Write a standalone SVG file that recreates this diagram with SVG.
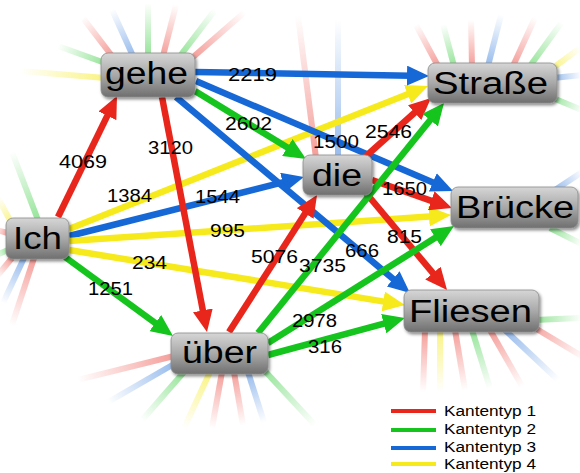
<svg xmlns="http://www.w3.org/2000/svg" width="580" height="473" viewBox="0 0 580 473">
<style>
.e{fill:none;stroke-width:6.5}
.r{stroke:#e8261c}.g{stroke:#16c41e}.b{stroke:#1668d6}.y{stroke:#f6ea1c}
.box{fill:url(#ng);stroke:#8a8a8a;stroke-width:0.8;filter:url(#sh)}
.nt{font-family:"Liberation Sans",Arial,sans-serif;font-size:31px;fill:#000}
.lb{font-family:"Liberation Sans",Arial,sans-serif;font-size:18px;fill:#000}
.lg{font-family:"Liberation Sans",Arial,sans-serif;font-size:14px;fill:#000}
.sr{fill:url(#fr)}.sg{fill:url(#fg)}.sb{fill:url(#fb)}.sy{fill:url(#fy)}
</style>
<defs>
<linearGradient id="ng" x1="0" y1="0" x2="0" y2="1">
<stop offset="0" stop-color="#d6d6d6"/><stop offset="0.5" stop-color="#a9a9a9"/><stop offset="1" stop-color="#6f6f6f"/>
</linearGradient>
<linearGradient id="fr"><stop offset="0" stop-color="#e8261c" stop-opacity="0.45"/><stop offset="1" stop-color="#e8261c" stop-opacity="0"/></linearGradient>
<linearGradient id="fg"><stop offset="0" stop-color="#16c41e" stop-opacity="0.45"/><stop offset="1" stop-color="#16c41e" stop-opacity="0"/></linearGradient>
<linearGradient id="fb"><stop offset="0" stop-color="#1668d6" stop-opacity="0.45"/><stop offset="1" stop-color="#1668d6" stop-opacity="0"/></linearGradient>
<linearGradient id="fy"><stop offset="0" stop-color="#f6ea1c" stop-opacity="0.55"/><stop offset="1" stop-color="#f6ea1c" stop-opacity="0"/></linearGradient>
<filter id="sh" x="-20%" y="-20%" width="150%" height="160%">
<feDropShadow dx="1.5" dy="2" stdDeviation="1.5" flood-color="#000" flood-opacity="0.45"/>
</filter>
<marker id="ar" markerUnits="userSpaceOnUse" markerWidth="22" markerHeight="20" viewBox="0 0 22 20" refX="4" refY="10" orient="auto"><path d="M0,0 L22,10 L0,20 z" fill="#e8261c"/></marker>
<marker id="ag" markerUnits="userSpaceOnUse" markerWidth="22" markerHeight="20" viewBox="0 0 22 20" refX="4" refY="10" orient="auto"><path d="M0,0 L22,10 L0,20 z" fill="#16c41e"/></marker>
<marker id="ab" markerUnits="userSpaceOnUse" markerWidth="22" markerHeight="20" viewBox="0 0 22 20" refX="4" refY="10" orient="auto"><path d="M0,0 L22,10 L0,20 z" fill="#1668d6"/></marker>
<marker id="ay" markerUnits="userSpaceOnUse" markerWidth="22" markerHeight="20" viewBox="0 0 22 20" refX="4" refY="10" orient="auto"><path d="M0,0 L22,10 L0,20 z" fill="#f6ea1c"/></marker>
</defs>
<rect width="580" height="473" fill="#fff"/>
<g id="stubs">
<rect class="sy" x="0" y="-3" width="85" height="6" transform="translate(105 78) rotate(184.7)"/>
<rect class="sg" x="0" y="-3" width="50" height="6" transform="translate(105 63) rotate(199.9)"/>
<rect class="sr" x="0" y="-3" width="48" height="6" transform="translate(112 56) rotate(232.6)"/>
<rect class="sb" x="0" y="-3" width="51" height="6" transform="translate(133 56) rotate(245.5)"/>
<rect class="sg" x="0" y="-3" width="53" height="6" transform="translate(148 56) rotate(270)"/>
<rect class="sr" x="0" y="-3" width="53" height="6" transform="translate(163 56) rotate(284.3)"/>
<rect class="sg" x="0" y="-3" width="58" height="6" transform="translate(180 56) rotate(-52.7)"/>
<rect class="sr" x="0" y="-3" width="70" height="6" transform="translate(192 58) rotate(-41)"/>
<rect class="sr" x="0" y="-3" width="47" height="6" transform="translate(438 66) rotate(241.8)"/>
<rect class="sg" x="0" y="-3" width="43" height="6" transform="translate(454 66) rotate(255.3)"/>
<rect class="sr" x="0" y="-3" width="46" height="6" transform="translate(472 66) rotate(268.8)"/>
<rect class="sb" x="0" y="-3" width="53" height="6" transform="translate(488 66) rotate(-75.7)"/>
<rect class="sr" x="0" y="-3" width="53" height="6" transform="translate(513 66) rotate(-65.4)"/>
<rect class="sg" x="0" y="-3" width="54" height="6" transform="translate(530 66) rotate(-54)"/>
<rect class="sy" x="0" y="-3" width="34" height="6" transform="translate(553 68) rotate(-36.5)"/>
<rect class="sb" x="0" y="-3" width="29" height="6" transform="translate(553 78) rotate(-5.9)"/>
<rect class="sg" x="0" y="-3" width="32" height="6" transform="translate(553 98) rotate(22.5)"/>
<rect class="sr" x="0" y="-3" width="144" height="6" transform="translate(316 158) rotate(262.8)"/>
<rect class="sb" x="0" y="-3" width="138" height="6" transform="translate(338 158) rotate(270)"/>
<rect class="sb" x="0" y="-3" width="33" height="6" transform="translate(555 190) rotate(-33.7)"/>
<rect class="sg" x="0" y="-3" width="36" height="6" transform="translate(550 228) rotate(26.6)"/>
<rect class="sg" x="0" y="-3" width="73" height="6" transform="translate(38 220) rotate(249.1)"/>
<rect class="sy" x="0" y="-3" width="30" height="6" transform="translate(12 224) rotate(241.7)"/>
<rect class="sr" x="0" y="-3" width="14" height="6" transform="translate(8 233) rotate(194)"/>
<rect class="sg" x="0" y="-3" width="14" height="6" transform="translate(8 250) rotate(157)"/>
<rect class="sr" x="0" y="-3" width="24" height="6" transform="translate(12 258) rotate(129.5)"/>
<rect class="sb" x="0" y="-3" width="50" height="6" transform="translate(24 258) rotate(115)"/>
<rect class="sr" x="0" y="-3" width="71" height="6" transform="translate(34 258) rotate(108.2)"/>
<rect class="sr" x="0" y="-3" width="99" height="6" transform="translate(174 356) rotate(166)"/>
<rect class="sb" x="0" y="-3" width="76" height="6" transform="translate(174 364) rotate(150)"/>
<rect class="sg" x="0" y="-3" width="64" height="6" transform="translate(184 372) rotate(131.2)"/>
<rect class="sy" x="0" y="-3" width="62" height="6" transform="translate(210 372) rotate(114.9)"/>
<rect class="sr" x="0" y="-3" width="57" height="6" transform="translate(222 372) rotate(100.1)"/>
<rect class="sr" x="0" y="-3" width="54" height="6" transform="translate(234 372) rotate(80.4)"/>
<rect class="sb" x="0" y="-3" width="53" height="6" transform="translate(248 372) rotate(72.3)"/>
<rect class="sg" x="0" y="-3" width="75" height="6" transform="translate(264 370) rotate(47.2)"/>
<rect class="sr" x="0" y="-3" width="62" height="6" transform="translate(425 330) rotate(91.8)"/>
<rect class="sy" x="0" y="-3" width="62" height="6" transform="translate(440 330) rotate(90)"/>
<rect class="sr" x="0" y="-3" width="61" height="6" transform="translate(455 330) rotate(80.5)"/>
<rect class="sg" x="0" y="-3" width="61" height="6" transform="translate(472 330) rotate(72.8)"/>
<rect class="sr" x="0" y="-3" width="65" height="6" transform="translate(490 330) rotate(60.3)"/>
<rect class="sb" x="0" y="-3" width="73" height="6" transform="translate(505 330) rotate(43.3)"/>
<rect class="sr" x="0" y="-3" width="64" height="6" transform="translate(530 325) rotate(31)"/>
<rect class="sg" x="0" y="-3" width="47" height="6" transform="translate(535 320) rotate(-2.4)"/>
</g>
<g id="edges">
<line class="e r" x1="58" y1="217" x2="109.1" y2="112.2" marker-end="url(#ar)"/>
<line class="e y" x1="69" y1="229" x2="411.3" y2="92.7" marker-end="url(#ay)"/>
<line class="e b" x1="69" y1="236" x2="286.5" y2="181.4" marker-end="url(#ab)"/>
<line class="e y" x1="69" y1="241" x2="433" y2="216.2" marker-end="url(#ay)"/>
<line class="e y" x1="69" y1="250" x2="387.2" y2="302.1" marker-end="url(#ay)"/>
<line class="e g" x1="65" y1="257" x2="158.5" y2="325.4" marker-end="url(#ag)"/>
<line class="e b" x1="195" y1="72" x2="411" y2="75.7" marker-end="url(#ab)"/>
<line class="e r" x1="162" y1="97" x2="203.6" y2="314.3" marker-end="url(#ar)"/>
<line class="e g" x1="195" y1="91" x2="290.7" y2="149.6" marker-end="url(#ag)"/>
<line class="e b" x1="196" y1="81" x2="436.5" y2="183.9" marker-end="url(#ab)"/>
<line class="e b" x1="176" y1="97" x2="396.2" y2="281.4" marker-end="url(#ab)"/>
<line class="e r" x1="365" y1="157" x2="417.6" y2="110" marker-end="url(#ar)"/>
<line class="e r" x1="372" y1="180" x2="435" y2="202.1" marker-end="url(#ar)"/>
<line class="e r" x1="366" y1="193" x2="435.5" y2="276.2" marker-end="url(#ar)"/>
<line class="e r" x1="229" y1="332" x2="307.3" y2="210.1" marker-end="url(#ar)"/>
<line class="e g" x1="258" y1="333" x2="432.7" y2="117" marker-end="url(#ag)"/>
<line class="e g" x1="268" y1="343" x2="438.8" y2="235.6" marker-end="url(#ag)"/>
<line class="e g" x1="268" y1="355" x2="387.6" y2="322.7" marker-end="url(#ag)"/>
</g>
<g id="edge-labels">
<text class="lb" x="228" y="81" textLength="49" lengthAdjust="spacingAndGlyphs">2219</text>
<text class="lb" x="225" y="130" textLength="47" lengthAdjust="spacingAndGlyphs">2602</text>
<text class="lb" x="148" y="154" textLength="45" lengthAdjust="spacingAndGlyphs">3120</text>
<text class="lb" x="59" y="168" textLength="48" lengthAdjust="spacingAndGlyphs">4069</text>
<text class="lb" x="107" y="202" textLength="45" lengthAdjust="spacingAndGlyphs">1384</text>
<text class="lb" x="195" y="203" textLength="45" lengthAdjust="spacingAndGlyphs">1544</text>
<text class="lb" x="210" y="237" textLength="35" lengthAdjust="spacingAndGlyphs">995</text>
<text class="lb" x="313" y="148" textLength="46" lengthAdjust="spacingAndGlyphs">1500</text>
<text class="lb" x="365" y="138" textLength="47" lengthAdjust="spacingAndGlyphs">2546</text>
<text class="lb" x="382" y="195" textLength="45" lengthAdjust="spacingAndGlyphs">1650</text>
<text class="lb" x="387" y="243" textLength="35" lengthAdjust="spacingAndGlyphs">815</text>
<text class="lb" x="345" y="257" textLength="34" lengthAdjust="spacingAndGlyphs">666</text>
<text class="lb" x="251" y="263" textLength="47" lengthAdjust="spacingAndGlyphs">5076</text>
<text class="lb" x="299" y="272" textLength="47" lengthAdjust="spacingAndGlyphs">3735</text>
<text class="lb" x="132" y="269" textLength="35" lengthAdjust="spacingAndGlyphs">234</text>
<text class="lb" x="88" y="295" textLength="45" lengthAdjust="spacingAndGlyphs">1251</text>
<text class="lb" x="292" y="327" textLength="45" lengthAdjust="spacingAndGlyphs">2978</text>
<text class="lb" x="308" y="353" textLength="34" lengthAdjust="spacingAndGlyphs">316</text>
</g>
<g id="node-gehe"><rect class="box" x="101" y="53" width="94" height="44" rx="7"/><text class="nt" x="105" y="84" textLength="83" lengthAdjust="spacingAndGlyphs">gehe</text></g>
<g id="node-strasse"><rect class="box" x="428" y="63" width="129" height="40" rx="7"/><text class="nt" x="433" y="94" textLength="115" lengthAdjust="spacingAndGlyphs">Straße</text></g>
<g id="node-die"><rect class="box" x="303" y="155" width="69" height="40" rx="7"/><text class="nt" x="312" y="186" textLength="50" lengthAdjust="spacingAndGlyphs">die</text></g>
<g id="node-bruecke"><rect class="box" x="451" y="187" width="127" height="41" rx="7"/><text class="nt" x="456" y="218" textLength="118" lengthAdjust="spacingAndGlyphs">Brücke</text></g>
<g id="node-ich"><rect class="box" x="6" y="218" width="63" height="41" rx="7"/><text class="nt" x="13" y="249" textLength="49" lengthAdjust="spacingAndGlyphs">Ich</text></g>
<g id="node-ueber"><rect class="box" x="171" y="333" width="97" height="41" rx="7"/><text class="nt" x="182" y="363" textLength="75" lengthAdjust="spacingAndGlyphs">über</text></g>
<g id="node-fliesen"><rect class="box" x="404" y="290" width="135" height="42" rx="7"/><text class="nt" x="409" y="322" textLength="123" lengthAdjust="spacingAndGlyphs">Fliesen</text></g>
<g id="legend">
<line x1="391" y1="411" x2="436" y2="411" stroke="#e8261c" stroke-width="4"/>
<line x1="391" y1="430" x2="436" y2="430" stroke="#16c41e" stroke-width="4"/>
<line x1="391" y1="448" x2="436" y2="448" stroke="#1668d6" stroke-width="4"/>
<line x1="391" y1="464" x2="436" y2="464" stroke="#f6ea1c" stroke-width="4"/>
<text class="lg" x="444" y="416" textLength="92" lengthAdjust="spacingAndGlyphs">Kantentyp 1</text>
<text class="lg" x="444" y="434" textLength="92" lengthAdjust="spacingAndGlyphs">Kantentyp 2</text>
<text class="lg" x="444" y="452" textLength="92" lengthAdjust="spacingAndGlyphs">Kantentyp 3</text>
<text class="lg" x="444" y="469" textLength="92" lengthAdjust="spacingAndGlyphs">Kantentyp 4</text>
</g>
</svg>
